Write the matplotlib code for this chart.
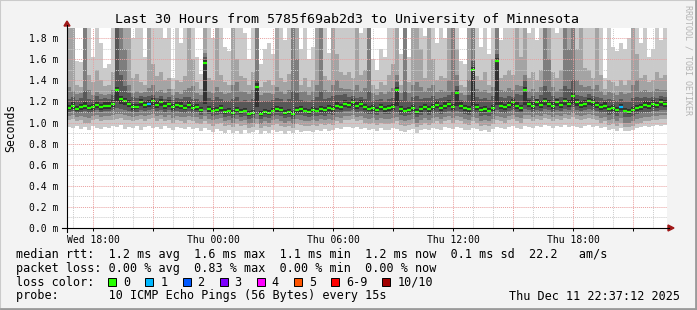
import numpy as np
import matplotlib
matplotlib.use("Agg")
import matplotlib.pyplot as plt
from matplotlib.patches import Rectangle, Polygon
from matplotlib.lines import Line2D

# ---------------- data ----------------
title = "Last 30 Hours from 5785f69ab2d3 to University of Minnesota"
y_label = "Seconds"
watermark = "RRDTOOL / TOBI OETIKER"
start_hour = 16.68          # hours since Wed 00:00
step_hours = 0.2            # 12 minute columns
span_hours = 30
x_tick_hours = [18, 24, 30, 36, 42]
x_tick_labels = ["Wed 18:00", "Thu 00:00", "Thu 06:00", "Thu 12:00", "Thu 18:00"]
y_tick_values = [0.0, 0.2, 0.4, 0.6, 0.8, 1.0, 1.2, 1.4, 1.6, 1.8]
y_tick_labels = ["0.0 m", "0.2 m", "0.4 m", "0.6 m", "0.8 m",
                 "1.0 m", "1.2 m", "1.4 m", "1.6 m", "1.8 m"]
y_max = 1.896

# median rtt (ms)
median = [
    1.14, 1.16, 1.13, 1.15, 1.16, 1.14, 1.15, 1.17, 1.15, 1.16,
    1.16, 1.18, 1.31, 1.22, 1.20, 1.18, 1.15, 1.15, 1.19, 1.17,
    1.18, 1.20, 1.17, 1.19, 1.16, 1.18, 1.15, 1.17, 1.16, 1.14,
    1.17, 1.14, 1.15, 1.12, 1.56, 1.13, 1.11, 1.12, 1.14, 1.10,
    1.11, 1.09, 1.12, 1.10, 1.11, 1.08, 1.09, 1.34, 1.08, 1.10,
    1.09, 1.11, 1.13, 1.12, 1.09, 1.10, 1.08, 1.12, 1.13, 1.11,
    1.10, 1.12, 1.11, 1.13, 1.12, 1.14, 1.13, 1.16, 1.15, 1.18,
    1.17, 1.19, 1.16, 1.18, 1.15, 1.13, 1.14, 1.12, 1.15, 1.13,
    1.14, 1.15, 1.31, 1.13, 1.11, 1.12, 1.14, 1.10, 1.13, 1.15,
    1.13, 1.15, 1.17, 1.14, 1.16, 1.18, 1.15, 1.28, 1.16, 1.14,
    1.13, 1.50, 1.15, 1.12, 1.13, 1.11, 1.14, 1.58, 1.16, 1.15,
    1.17, 1.19, 1.16, 1.14, 1.31, 1.18, 1.16, 1.19, 1.17, 1.20,
    1.18, 1.16, 1.19, 1.17, 1.20, 1.18, 1.25, 1.19, 1.17, 1.18,
    1.20, 1.19, 1.17, 1.15, 1.16, 1.13, 1.14, 1.12, 1.15, 1.11,
    1.10, 1.12, 1.14, 1.15, 1.17, 1.16, 1.18, 1.17, 1.19, 1.18]

# sorted pings (ms): ping10 = slowest ... ping1 = fastest (values above the axis top are clipped)
ping10 = [
    2.4, 2.4, 1.58, 1.57, 2.4, 2.4, 1.62, 2.4, 1.75, 1.52,
    1.55, 2.4, 2.4, 2.4, 2.4, 2.4, 1.80, 2.4, 2.4, 1.62,
    2.4, 2.4, 2.4, 2.4, 1.80, 2.4, 1.42, 2.4, 1.75, 2.4,
    2.4, 2.4, 1.62, 1.46, 2.4, 2.4, 1.80, 2.4, 2.4, 1.72,
    1.68, 2.4, 2.4, 2.4, 1.85, 1.60, 2.4, 2.4, 1.55, 1.70,
    1.75, 1.65, 2.4, 2.4, 1.78, 2.4, 2.4, 2.4, 1.70, 2.4,
    1.60, 1.72, 2.4, 2.4, 2.4, 1.66, 2.4, 2.4, 2.4, 2.4,
    2.4, 2.4, 2.4, 1.85, 2.4, 2.4, 1.60, 1.50, 1.70, 1.62,
    2.4, 2.4, 2.4, 1.65, 2.4, 1.62, 2.4, 2.4, 2.4, 1.82,
    2.4, 2.4, 1.75, 2.4, 1.80, 2.4, 2.4, 2.4, 1.58, 1.55,
    2.4, 2.4, 2.4, 1.72, 2.4, 1.65, 2.4, 2.4, 1.78, 2.4,
    2.4, 2.4, 2.4, 2.4, 2.4, 1.85, 2.4, 1.78, 2.4, 2.4,
    2.4, 2.4, 1.85, 2.4, 2.4, 2.4, 2.4, 2.4, 2.4, 2.4,
    2.4, 2.4, 2.4, 2.4, 1.42, 2.4, 1.72, 1.68, 1.75, 1.70,
    1.80, 2.4, 2.4, 1.75, 2.4, 1.62, 1.70, 2.4, 1.78, 2.4]
ping9 = [
    2.4, 2.4, 1.36, 1.34, 2.4, 1.45, 1.38, 1.50, 1.40, 1.35,
    1.36, 1.48, 2.4, 2.4, 2.4, 2.4, 1.42, 1.46, 1.38, 1.36,
    2.4, 1.55, 1.44, 1.48, 1.40, 1.42, 1.32, 1.40, 1.38, 1.44,
    2.4, 1.60, 1.38, 1.32, 2.4, 1.42, 1.40, 2.4, 1.45, 1.38,
    1.36, 2.4, 1.60, 1.44, 1.42, 1.36, 1.48, 2.4, 1.34, 1.38,
    1.40, 1.36, 2.4, 1.42, 1.38, 1.46, 2.4, 2.4, 1.36, 1.42,
    1.34, 1.40, 2.4, 2.4, 1.44, 1.40, 2.4, 1.65, 1.48, 1.45,
    1.48, 1.42, 2.4, 1.45, 1.50, 2.4, 1.36, 1.32, 1.38, 1.36,
    1.45, 1.55, 2.4, 1.36, 2.4, 1.38, 2.4, 2.4, 1.70, 1.42,
    2.4, 1.60, 1.40, 1.44, 1.42, 2.4, 2.4, 1.70, 1.36, 1.34,
    2.4, 2.4, 1.44, 1.40, 1.48, 1.36, 1.60, 2.4, 1.42, 1.45,
    1.50, 1.45, 2.4, 1.62, 2.4, 1.42, 1.48, 1.40, 1.50, 2.4,
    2.4, 1.48, 1.42, 1.50, 2.4, 2.4, 2.4, 1.70, 2.4, 1.52,
    1.50, 1.42, 2.4, 1.45, 1.32, 1.40, 1.38, 1.35, 1.40, 1.36,
    1.40, 2.4, 1.65, 1.42, 1.45, 1.38, 1.40, 1.48, 1.42, 1.45]
ping8 = [
    1.34, 1.30, 1.27, 1.28, 2.4, 1.31, 1.26, 1.29, 1.27, 1.26,
    1.27, 1.31, 2.4, 2.4, 1.70, 1.36, 1.28, 1.30, 1.28, 1.29,
    1.33, 1.36, 1.30, 1.31, 1.28, 1.32, 1.26, 1.29, 1.27, 1.31,
    1.33, 1.35, 1.28, 1.26, 1.66, 1.30, 1.28, 1.34, 1.29, 1.27,
    1.28, 1.36, 1.38, 1.30, 1.29, 1.27, 1.31, 2.4, 1.26, 1.28,
    1.28, 1.27, 1.34, 1.30, 1.27, 1.31, 2.4, 1.60, 1.29, 1.30,
    1.26, 1.30, 1.36, 2.4, 1.31, 1.29, 1.36, 1.40, 1.33, 1.32,
    1.32, 1.31, 1.36, 1.30, 1.33, 2.4, 1.28, 1.26, 1.29, 1.27,
    1.30, 1.33, 1.45, 1.28, 2.4, 1.28, 1.36, 1.38, 1.34, 1.30,
    1.33, 1.36, 1.29, 1.31, 1.30, 1.40, 2.4, 1.45, 1.28, 1.26,
    1.40, 2.4, 1.32, 1.30, 1.31, 1.28, 1.34, 2.4, 1.31, 1.30,
    1.33, 1.31, 1.36, 1.35, 1.45, 1.30, 1.32, 1.29, 1.34, 2.4,
    1.60, 1.34, 1.30, 1.32, 2.4, 1.70, 2.4, 1.40, 1.36, 1.34,
    1.35, 1.32, 1.36, 1.30, 1.26, 1.29, 1.28, 1.26, 1.29, 1.27,
    1.28, 1.36, 1.40, 1.30, 1.31, 1.29, 1.30, 1.32, 1.31, 1.31]
ping7 = [
    1.22, 1.24, 1.21, 1.23, 1.30, 1.22, 1.21, 1.25, 1.22, 1.23,
    1.22, 1.26, 2.4, 1.45, 1.35, 1.28, 1.24, 1.23, 1.25, 1.24,
    1.25, 1.26, 1.23, 1.25, 1.22, 1.24, 1.21, 1.23, 1.22, 1.24,
    1.24, 1.22, 1.22, 1.20, 1.62, 1.23, 1.21, 1.24, 1.22, 1.20,
    1.20, 1.22, 1.24, 1.20, 1.21, 1.19, 1.22, 1.40, 1.19, 1.20,
    1.20, 1.21, 1.23, 1.22, 1.19, 1.22, 1.30, 1.28, 1.21, 1.20,
    1.19, 1.21, 1.24, 1.30, 1.22, 1.23, 1.25, 1.26, 1.26, 1.27,
    1.24, 1.25, 1.23, 1.24, 1.22, 1.30, 1.20, 1.21, 1.22, 1.20,
    1.22, 1.23, 1.38, 1.21, 1.30, 1.20, 1.24, 1.25, 1.22, 1.23,
    1.23, 1.25, 1.22, 1.23, 1.24, 1.26, 1.30, 1.35, 1.21, 1.20,
    1.26, 1.58, 1.24, 1.22, 1.23, 1.21, 1.25, 1.65, 1.24, 1.23,
    1.25, 1.24, 1.27, 1.26, 1.40, 1.23, 1.25, 1.22, 1.26, 1.35,
    1.30, 1.25, 1.23, 1.24, 1.35, 1.32, 1.40, 1.26, 1.25, 1.24,
    1.27, 1.25, 1.24, 1.23, 1.21, 1.22, 1.21, 1.20, 1.22, 1.20,
    1.20, 1.23, 1.24, 1.23, 1.24, 1.23, 1.24, 1.23, 1.25, 1.24]
ping6 = [
    1.17, 1.19, 1.16, 1.18, 1.19, 1.17, 1.18, 1.20, 1.18, 1.19,
    1.19, 1.21, 1.34, 1.25, 1.23, 1.21, 1.18, 1.18, 1.22, 1.20,
    1.21, 1.23, 1.20, 1.22, 1.19, 1.21, 1.18, 1.20, 1.19, 1.17,
    1.20, 1.17, 1.18, 1.15, 1.59, 1.16, 1.14, 1.15, 1.17, 1.13,
    1.14, 1.12, 1.15, 1.13, 1.14, 1.11, 1.12, 1.37, 1.11, 1.13,
    1.12, 1.14, 1.16, 1.15, 1.12, 1.13, 1.11, 1.15, 1.16, 1.14,
    1.13, 1.15, 1.14, 1.16, 1.15, 1.17, 1.16, 1.19, 1.18, 1.21,
    1.20, 1.22, 1.19, 1.21, 1.18, 1.16, 1.17, 1.15, 1.18, 1.16,
    1.17, 1.18, 1.34, 1.16, 1.14, 1.15, 1.17, 1.13, 1.16, 1.18,
    1.16, 1.18, 1.20, 1.17, 1.19, 1.21, 1.18, 1.31, 1.19, 1.17,
    1.16, 1.53, 1.18, 1.15, 1.16, 1.14, 1.17, 1.61, 1.19, 1.18,
    1.20, 1.22, 1.19, 1.17, 1.34, 1.21, 1.19, 1.22, 1.20, 1.23,
    1.21, 1.19, 1.22, 1.20, 1.23, 1.21, 1.28, 1.22, 1.20, 1.21,
    1.23, 1.22, 1.20, 1.18, 1.19, 1.16, 1.17, 1.15, 1.18, 1.14,
    1.13, 1.15, 1.17, 1.18, 1.20, 1.19, 1.21, 1.20, 1.22, 1.21]
ping5 = [
    1.12, 1.13, 1.11, 1.12, 1.13, 1.12, 1.12, 1.14, 1.12, 1.13,
    1.13, 1.15, 1.20, 1.18, 1.17, 1.15, 1.12, 1.13, 1.16, 1.14,
    1.15, 1.17, 1.14, 1.16, 1.13, 1.15, 1.12, 1.14, 1.13, 1.12,
    1.14, 1.12, 1.12, 1.10, 1.18, 1.10, 1.09, 1.10, 1.11, 1.08,
    1.09, 1.07, 1.09, 1.08, 1.09, 1.06, 1.07, 1.15, 1.06, 1.08,
    1.07, 1.09, 1.10, 1.09, 1.07, 1.08, 1.06, 1.09, 1.10, 1.09,
    1.08, 1.09, 1.09, 1.10, 1.09, 1.11, 1.10, 1.13, 1.12, 1.15,
    1.14, 1.16, 1.13, 1.15, 1.12, 1.11, 1.11, 1.10, 1.12, 1.10,
    1.11, 1.12, 1.16, 1.10, 1.09, 1.10, 1.11, 1.08, 1.10, 1.12,
    1.10, 1.12, 1.14, 1.11, 1.13, 1.15, 1.12, 1.16, 1.13, 1.11,
    1.10, 1.16, 1.12, 1.10, 1.10, 1.09, 1.11, 1.17, 1.13, 1.12,
    1.14, 1.16, 1.13, 1.11, 1.17, 1.15, 1.13, 1.16, 1.14, 1.17,
    1.15, 1.13, 1.16, 1.14, 1.17, 1.15, 1.18, 1.16, 1.14, 1.15,
    1.17, 1.16, 1.14, 1.12, 1.13, 1.11, 1.11, 1.10, 1.12, 1.09,
    1.08, 1.10, 1.11, 1.12, 1.14, 1.13, 1.15, 1.14, 1.16, 1.15]
ping4 = [
    1.10, 1.11, 1.09, 1.10, 1.11, 1.09, 1.10, 1.12, 1.10, 1.11,
    1.11, 1.12, 1.14, 1.13, 1.12, 1.11, 1.10, 1.10, 1.12, 1.11,
    1.12, 1.13, 1.11, 1.12, 1.10, 1.12, 1.09, 1.11, 1.10, 1.09,
    1.11, 1.09, 1.10, 1.07, 1.12, 1.08, 1.06, 1.07, 1.08, 1.05,
    1.06, 1.04, 1.07, 1.05, 1.06, 1.03, 1.04, 1.08, 1.03, 1.05,
    1.04, 1.06, 1.07, 1.06, 1.04, 1.05, 1.03, 1.07, 1.07, 1.06,
    1.05, 1.06, 1.06, 1.07, 1.06, 1.08, 1.07, 1.10, 1.09, 1.11,
    1.11, 1.12, 1.10, 1.11, 1.09, 1.08, 1.08, 1.07, 1.09, 1.08,
    1.08, 1.09, 1.10, 1.07, 1.06, 1.07, 1.08, 1.05, 1.07, 1.09,
    1.07, 1.09, 1.10, 1.08, 1.10, 1.11, 1.09, 1.11, 1.10, 1.08,
    1.07, 1.10, 1.09, 1.06, 1.07, 1.06, 1.08, 1.12, 1.10, 1.09,
    1.11, 1.12, 1.10, 1.09, 1.13, 1.12, 1.10, 1.12, 1.11, 1.13,
    1.12, 1.10, 1.12, 1.11, 1.13, 1.12, 1.15, 1.12, 1.11, 1.12,
    1.13, 1.12, 1.11, 1.09, 1.10, 1.07, 1.08, 1.06, 1.09, 1.05,
    1.05, 1.06, 1.08, 1.09, 1.10, 1.10, 1.11, 1.11, 1.12, 1.12]
ping3 = [
    1.06, 1.07, 1.05, 1.06, 1.05, 1.04, 1.06, 1.07, 1.05, 1.06,
    1.06, 1.07, 1.08, 1.08, 1.07, 1.06, 1.05, 1.06, 1.07, 1.06,
    1.07, 1.08, 1.06, 1.07, 1.05, 1.07, 1.04, 1.06, 1.05, 1.05,
    1.06, 1.05, 1.05, 1.03, 1.06, 1.03, 1.02, 1.03, 1.04, 1.01,
    1.02, 1.00, 1.03, 1.01, 1.02, 0.99, 1.00, 1.03, 0.99, 1.01,
    1.00, 1.02, 1.03, 1.01, 1.00, 1.01, 0.99, 1.03, 1.02, 1.01,
    1.01, 1.02, 1.01, 1.03, 1.02, 1.03, 1.02, 1.05, 1.04, 1.06,
    1.06, 1.07, 1.05, 1.06, 1.04, 1.03, 1.04, 1.02, 1.04, 1.03,
    1.03, 1.04, 1.05, 1.02, 1.01, 1.02, 1.03, 1.00, 1.02, 1.04,
    1.02, 1.04, 1.05, 1.03, 1.05, 1.06, 1.04, 1.06, 1.05, 1.03,
    1.02, 1.05, 1.04, 1.01, 1.02, 1.01, 1.03, 1.06, 1.05, 1.04,
    1.06, 1.07, 1.05, 1.04, 1.07, 1.07, 1.05, 1.07, 1.06, 1.08,
    1.07, 1.05, 1.07, 1.06, 1.08, 1.07, 1.09, 1.07, 1.06, 1.07,
    1.08, 1.07, 1.06, 1.04, 1.05, 1.02, 1.03, 1.01, 1.04, 1.00,
    1.00, 1.01, 1.03, 1.04, 1.05, 1.05, 1.06, 1.06, 1.07, 1.07]
ping2 = [
    1.02, 1.03, 1.01, 1.02, 1.00, 1.00, 1.02, 1.03, 1.01, 1.02,
    1.02, 1.02, 1.03, 1.04, 1.02, 1.02, 1.01, 1.02, 1.03, 1.01,
    1.03, 1.04, 1.01, 1.03, 1.01, 1.02, 1.00, 1.02, 1.01, 1.00,
    1.02, 1.01, 1.00, 0.99, 1.01, 0.99, 0.97, 0.99, 1.00, 0.97,
    0.98, 0.96, 0.99, 0.97, 0.98, 0.95, 0.96, 0.99, 0.95, 0.97,
    0.96, 0.98, 0.99, 0.97, 0.96, 0.97, 0.95, 0.99, 0.98, 0.97,
    0.97, 0.98, 0.97, 0.99, 0.98, 0.99, 0.98, 1.01, 1.00, 1.02,
    1.02, 1.03, 1.01, 1.02, 1.00, 0.99, 1.00, 0.98, 1.00, 0.99,
    0.99, 1.00, 1.01, 0.98, 0.97, 0.98, 0.99, 0.96, 0.98, 1.00,
    0.98, 1.00, 1.01, 0.99, 1.01, 1.02, 1.00, 1.02, 1.01, 0.99,
    0.98, 1.01, 1.00, 0.97, 0.98, 0.97, 0.99, 1.02, 1.01, 1.00,
    1.02, 1.03, 1.01, 1.00, 1.03, 1.03, 1.01, 1.03, 1.02, 1.04,
    1.03, 1.01, 1.03, 1.02, 1.04, 1.03, 1.05, 1.03, 1.02, 1.03,
    1.04, 1.03, 1.02, 1.00, 1.01, 0.98, 0.99, 0.97, 1.00, 0.96,
    0.96, 0.97, 0.99, 1.00, 1.01, 1.01, 1.02, 1.02, 1.03, 1.03]
ping1 = [
    0.96, 0.95, 0.97, 0.94, 0.96, 0.93, 0.97, 0.95, 0.94, 0.96,
    0.95, 0.97, 0.96, 0.98, 0.94, 0.96, 0.95, 0.97, 0.93, 0.96,
    0.97, 0.95, 0.96, 0.94, 0.97, 0.95, 0.93, 0.96, 0.95, 0.94,
    0.96, 0.94, 0.95, 0.92, 0.95, 0.93, 0.91, 0.94, 0.92, 0.90,
    0.93, 0.90, 0.92, 0.89, 0.93, 0.90, 0.91, 0.93, 0.89, 0.92,
    0.90, 0.93, 0.91, 0.92, 0.89, 0.92, 0.90, 0.93, 0.91, 0.92,
    0.92, 0.91, 0.93, 0.92, 0.94, 0.92, 0.93, 0.95, 0.94, 0.96,
    0.96, 0.95, 0.96, 0.94, 0.95, 0.93, 0.94, 0.92, 0.95, 0.93,
    0.93, 0.95, 0.94, 0.92, 0.91, 0.93, 0.94, 0.90, 0.93, 0.94,
    0.93, 0.95, 0.94, 0.93, 0.96, 0.95, 0.94, 0.96, 0.95, 0.93,
    0.93, 0.95, 0.94, 0.92, 0.93, 0.91, 0.94, 0.96, 0.95, 0.94,
    0.96, 0.97, 0.95, 0.94, 0.97, 0.96, 0.95, 0.97, 0.96, 0.98,
    0.97, 0.95, 0.97, 0.96, 0.98, 0.96, 0.97, 0.96, 0.95, 0.97,
    0.98, 0.96, 0.97, 0.95, 0.96, 0.93, 0.94, 0.92, 0.95, 0.92,
    0.92, 0.93, 0.95, 0.96, 0.97, 0.96, 0.97, 0.98, 0.97, 0.98]

# columns with packet loss (index -> pings lost)
loss_index = [20, 138]
loss_count = [1, 1]

loss_labels = ["0", "1", "2", "3", "4", "5", "6-9", "10/10"]
loss_colors = ["#26ff00", "#00b8ff", "#0059ff", "#7e00ff",
               "#ff00ff", "#ff5500", "#ff0000", "#a10000"]
stat_rtt = "median rtt:  1.2 ms avg  1.6 ms max  1.1 ms min  1.2 ms now  0.1 ms sd  22.2   am/s"
stat_loss = "packet loss: 0.00 % avg  0.83 % max  0.00 % min  0.00 % now"
loss_title = "loss color:"
probe_line = "probe:       10 ICMP Echo Pings (56 Bytes) every 15s"
timestamp = "Thu Dec 11 22:37:12 2025"

# ---------------- figure ----------------
W, H = 697, 310
MONO = "DejaVu Sans Mono"
fig = plt.figure(figsize=(W / 100, H / 100), dpi=100)
fig.patch.set_facecolor("#f3f3f3")


def fx(x):
    return x / W


def fy(y):
    return 1 - y / H


# frame shading
fig.add_artist(Rectangle((0, 0), 1, 1, transform=fig.transFigure, fill=False,
                         edgecolor="#cbcbcb", lw=1.5))
fig.add_artist(Line2D([fx(1), fx(696)], [fy(308.5), fy(308.5)], color="#9a9a9a", lw=2))
fig.add_artist(Line2D([fx(695.5), fx(695.5)], [fy(1), fy(309)], color="#9a9a9a", lw=2))

ax = fig.add_axes([fx(67), fy(228), 600 / W, 200 / H])
ax.set_facecolor("white")
ax.set_xlim(start_hour, start_hour + span_hours)
ax.set_ylim(0, y_max)
for s in ax.spines.values():
    s.set_visible(False)

n = len(median)
t = start_hour + step_hours * np.arange(n)
te = np.append(t, t[-1] + step_hours)


def ext(a):
    a = np.asarray(a, dtype=float)
    return np.append(a, a[-1])


bands = [(ping1, ping10, "#cacaca"), (ping2, ping9, "#a4a4a4"),
         (ping3, ping8, "#7e7e7e"), (ping4, ping7, "#585858"),
         (ping5, ping6, "#323232")]
for lo, hi, c in bands:
    ax.fill_between(te, ext(lo), ext(hi), step="post", color=c, lw=0, zorder=1)

# median coloured by loss
col_idx = np.zeros(n, dtype=int)
for i, c in zip(loss_index, loss_count):
    col_idx[i] = c
ax.hlines(median, t, t + step_hours, colors=[loss_colors[c] for c in col_idx],
          lw=1.6, zorder=5, capstyle="butt")

# grid (drawn above smoke like rrdtool)
dots = (0, (1, 1))
for v in np.arange(0.1, y_max, 0.2):
    ax.axhline(v, color="#cccccc", lw=0.7, ls=dots, zorder=6)
for v in y_tick_values[1:]:
    ax.axhline(v, color="#e8a0a0", lw=0.7, ls=dots, zorder=7)
for h in np.arange(17, start_hour + span_hours, 1):
    if h % 3:
        ax.axvline(h, color="#cccccc", lw=0.7, ls=dots, zorder=6)
for h in np.arange(18, start_hour + span_hours, 3):
    ax.axvline(h, color="#e8a0a0", lw=0.7, ls=dots, zorder=7)

ax.set_yticks(y_tick_values)
ax.set_yticklabels(y_tick_labels, fontsize=7, family=MONO)
ax.set_xticks(x_tick_hours)
ax.set_xticklabels(x_tick_labels, fontsize=7, family=MONO)
ax.set_xticks(np.arange(18, start_hour + span_hours, 3), minor=True)
ax.tick_params(axis="y", length=0, pad=6.5)
ax.tick_params(axis="x", which="both", length=2, width=0.7, direction="out", pad=3)

# axes lines with arrows
fig.add_artist(Line2D([fx(62), fx(669)], [fy(228), fy(228)], color="black", lw=0.8))
fig.add_artist(Line2D([fx(67), fx(67)], [fy(232), fy(25)], color="black", lw=0.8))
fig.add_artist(Polygon([[fx(64), fy(26)], [fx(70), fy(26)], [fx(67), fy(21)]],
                       closed=True, transform=fig.transFigure, color="#a01818"))
fig.add_artist(Polygon([[fx(668), fy(225)], [fx(668), fy(231)], [fx(674), fy(228)]],
                       closed=True, transform=fig.transFigure, color="#a01818"))

# texts
fig.text(fx(347), fy(19), title, ha="center", va="center", fontsize=9.5, family=MONO)
fig.text(fx(11), fy(128), y_label, ha="center", va="center", rotation=90,
         fontsize=8.3, family=MONO)
fig.text(fx(688), fy(5), watermark, ha="center", va="top", rotation=270,
         fontsize=6, family=MONO, color="#b4b4b4")

fs = 8.5
cw = 7.1
fig.text(fx(16), fy(258.3), stat_rtt, ha="left", va="baseline", fontsize=fs, family=MONO)
fig.text(fx(16), fy(271.8), stat_loss, ha="left", va="baseline", fontsize=fs, family=MONO)
fig.text(fx(16), fy(285.5), loss_title, ha="left", va="baseline", fontsize=fs, family=MONO)
bx = 108.3
for lab, c in zip(loss_labels, loss_colors):
    fig.add_artist(Rectangle((fx(bx), fy(286)), 8 / W, 8 / H, transform=fig.transFigure,
                             facecolor=c, edgecolor="black", lw=0.7))
    fig.text(fx(bx + 15), fy(285.5), lab, ha="left", va="baseline", fontsize=fs, family=MONO)
    bx = bx + 15 + len(lab) * cw + 15
fig.text(fx(16), fy(299.5), probe_line, ha="left", va="baseline", fontsize=fs, family=MONO)
fig.text(fx(680), fy(299.5), timestamp, ha="right", va="baseline", fontsize=fs, family=MONO)

fig.savefig("out.png", dpi=100, facecolor=fig.get_facecolor())
